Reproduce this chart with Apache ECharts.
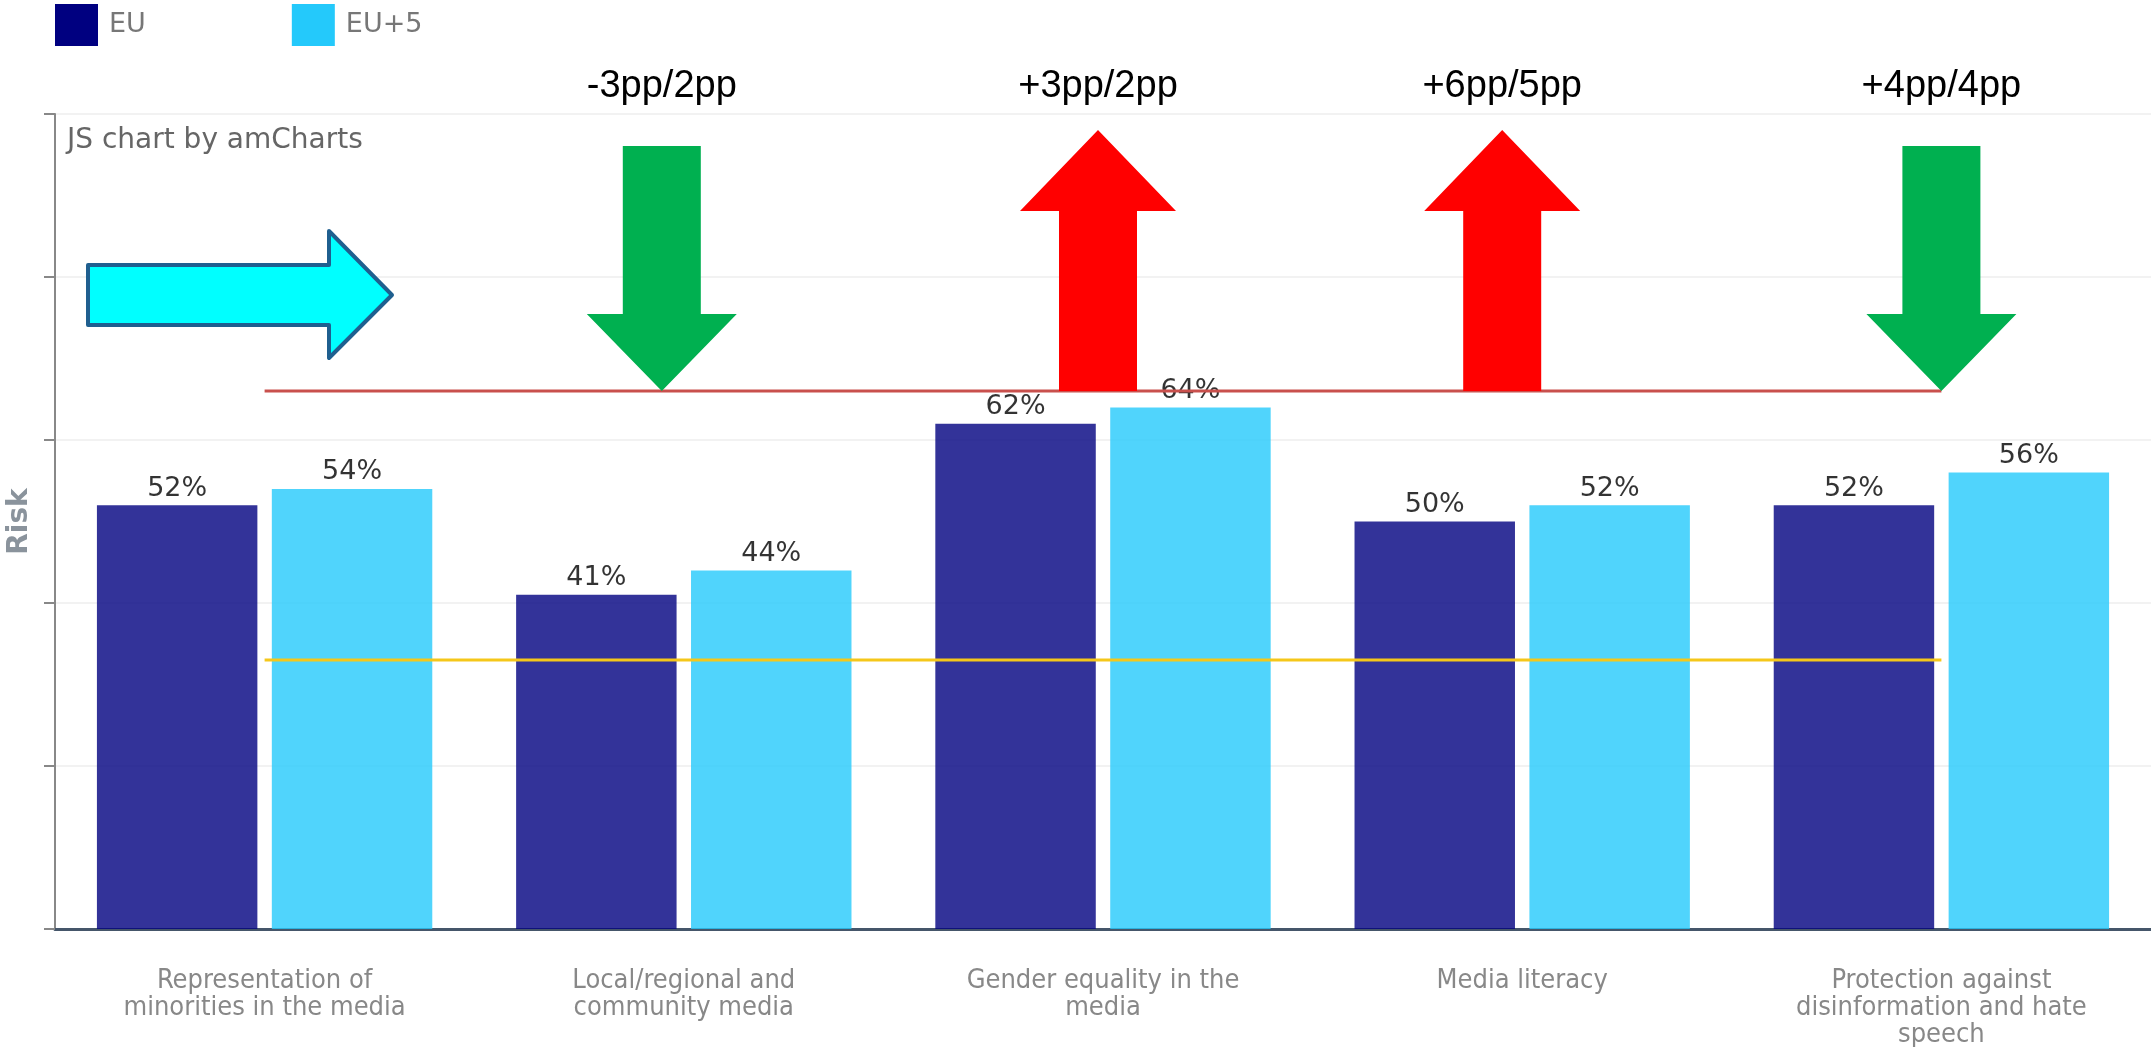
<!DOCTYPE html>
<html>
<head>
<meta charset="utf-8">
<script src="https://cdn.jsdelivr.net/npm/echarts@6/dist/echarts.min.js"></script>
<style>
  html, body { margin: 0; padding: 0; background: #fff; }
  #chart { width: 2151px; height: 1047px; }
</style>
</head>
<body>
<div id="chart"></div>
<script>
// data
var categories = [
  'Representation of\nminorities in the media',
  'Local/regional and\ncommunity media',
  'Gender equality in the\nmedia',
  'Media literacy',
  'Protection against\ndisinformation and hate\nspeech'
]
var euValues = [52, 41, 62, 50, 52]
var eu5Values = [54, 44, 64, 52, 56]
var highRiskLevel = 66
var lowRiskLevel = 33
// change vs previous round, shown as arrows over the categories
var changeCategories = [1, 2, 3, 4]
var changeLabels = ['-3pp/2pp', '+3pp/2pp', '+6pp/5pp', '+4pp/4pp']
var changeDirections = ['down', 'up', 'up', 'down']

var chart = echarts.init(document.getElementById('chart'))
var font = '"DejaVu Sans", Verdana, sans-serif'

// the category labels in the original are a narrow face
function hasFont(name) {
  var ctx = document.createElement('canvas').getContext('2d')
  var s = 'minorities in the media'
  ctx.font = '40px monospace'
  var a = ctx.measureText(s).width
  ctx.font = '40px "' + name + '", monospace'
  return ctx.measureText(s).width !== a
}
var labelFont = { family: font, size: 24 }
if (hasFont('DejaVu Sans Condensed')) {
  labelFont = { family: '"DejaVu Sans Condensed", ' + font, size: 27 }
} else if (hasFont('Liberation Sans Narrow')) {
  labelFont = { family: '"Liberation Sans Narrow", ' + font, size: 32 }
}

function levelLine(level, color) {
  return {
    type: 'line',
    data: categories.map(function () { return level }),
    symbol: 'none',
    silent: true,
    lineStyle: { color: color, width: 3 },
    z: 3
  }
}

chart.setOption({
  animation: false,
  title: {
    text: 'JS chart by amCharts',
    left: 62,
    top: 122,
    textStyle: { fontFamily: font, fontSize: 28, fontWeight: 'normal', color: '#666' }
  },
  legend: {
    left: 55,
    top: 4,
    padding: 0,
    icon: 'rect',
    itemWidth: 43,
    itemHeight: 42,
    itemGap: 146,
    textStyle: { fontFamily: font, fontSize: 27, color: '#777', padding: [0, 0, 0, 6] },
    data: [
      { name: 'EU', itemStyle: { color: '#000080', opacity: 1 } },
      { name: 'EU+5', itemStyle: { color: '#24c9fb', opacity: 1 } }
    ]
  },
  grid: { left: 55, right: 0, top: 114, bottom: 118, outerBoundsMode: 'none' },
  xAxis: {
    type: 'category',
    data: categories,
    axisLine: { lineStyle: { color: '#45566a', width: 3 } },
    axisTick: { alignWithLabel: true, length: 11, lineStyle: { color: '#45566a', width: 2 } },
    axisLabel: {
      fontFamily: labelFont.family, fontSize: labelFont.size, lineHeight: 27,
      color: '#888', margin: 38
    }
  },
  yAxis: {
    type: 'value',
    min: 0,
    max: 100,
    interval: 20,
    name: 'Risk',
    nameLocation: 'middle',
    nameRotate: 90,
    nameGap: 21,
    nameTextStyle: { fontFamily: font, fontSize: 28, fontWeight: 'bold', color: '#8a939c' },
    axisLabel: { show: false },
    axisLine: { show: true, lineStyle: { color: '#888', width: 2 } },
    axisTick: { show: true, length: 11, lineStyle: { color: '#888', width: 2 } },
    splitLine: { lineStyle: { color: '#f2f2f2', width: 2 } }
  },
  series: [
    {
      name: 'EU',
      type: 'bar',
      data: euValues,
      barGap: '9%',
      barCategoryGap: '20%',
      itemStyle: { color: '#000080', opacity: 0.8 },
      label: {
        show: true, position: 'top', distance: 3, formatter: '{c}%',
        fontFamily: font, fontSize: 27, color: '#000'
      }
    },
    {
      name: 'EU+5',
      type: 'bar',
      data: eu5Values,
      itemStyle: { color: '#24c9fb', opacity: 0.8 },
      label: {
        show: true, position: 'top', distance: 3, formatter: '{c}%',
        fontFamily: font, fontSize: 27, color: '#000'
      }
    },
    levelLine(highRiskLevel, '#c9504d'),
    levelLine(lowRiskLevel, '#f5c71a')
  ]
})

// annotation arrows placed on the category centres
function drawArrows() {
  var lineY = chart.convertToPixel({ yAxisIndex: 0 }, highRiskLevel)
  var topY = chart.convertToPixel({ yAxisIndex: 0 }, 100)
  var shift = [-22, -5, -20, 0]
  var elements = []

  // cyan arrow on the left
  elements.push({
    type: 'polygon',
    shape: { points: [[88, 265], [329, 265], [329, 231], [392, 295], [329, 358], [329, 325], [88, 325]] },
    style: { fill: '#00ffff', stroke: '#1f5f8f', lineWidth: 4, lineJoin: 'round' },
    z: 10
  })

  changeCategories.forEach(function (c, i) {
    var cx = chart.convertToPixel({ xAxisIndex: 0 }, c) + shift[i]
    var pts
    if (changeDirections[i] === 'down') {
      pts = [[cx - 39, topY + 32], [cx + 39, topY + 32], [cx + 39, lineY - 77], [cx + 75, lineY - 77],
             [cx, lineY], [cx - 75, lineY - 77], [cx - 39, lineY - 77]]
    } else {
      pts = [[cx - 39, lineY], [cx - 39, lineY - 180], [cx - 78, lineY - 180], [cx, lineY - 261],
             [cx + 78, lineY - 180], [cx + 39, lineY - 180], [cx + 39, lineY]]
    }
    elements.push({
      type: 'polygon',
      shape: { points: pts },
      style: { fill: changeDirections[i] === 'down' ? '#00b050' : '#ff0000' },
      z: 10
    })
    elements.push({
      type: 'text',
      x: cx,
      y: 87,
      style: {
        text: changeLabels[i],
        fill: '#000',
        font: '38px "Liberation Sans", Arial, sans-serif',
        textAlign: 'center',
        textVerticalAlign: 'middle'
      },
      z: 10
    })
  })
  chart.setOption({ graphic: elements })
}
drawArrows()
</script>
</body>
</html>
